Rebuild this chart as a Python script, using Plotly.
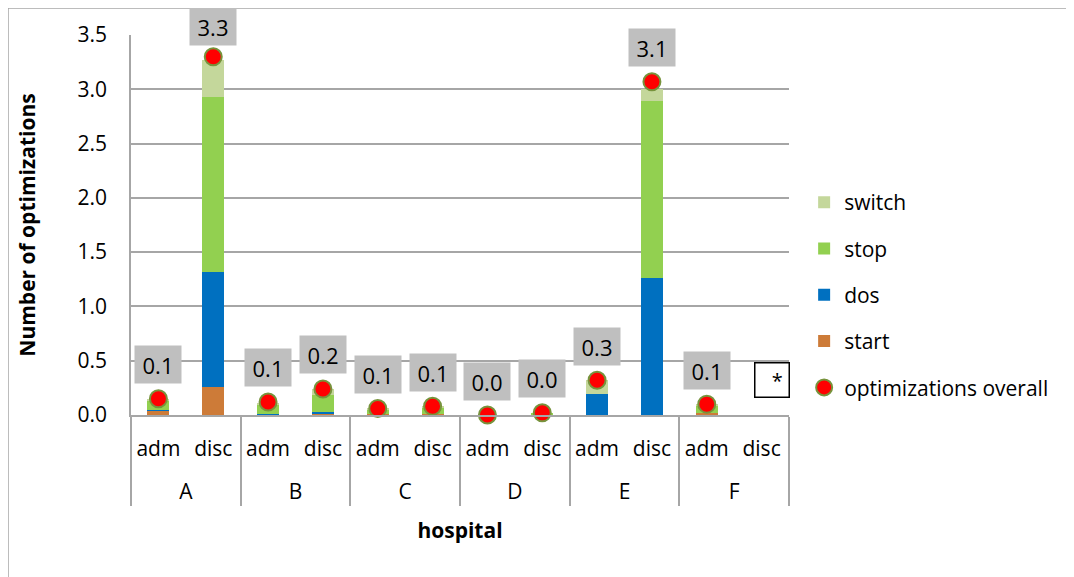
import plotly.graph_objects as go

hospitals = ["A", "A", "B", "B", "C", "C", "D", "D", "E", "E", "F", "F"]
wards = ["adm", "disc"] * 6

start = [0.04, 0.26, 0.00, 0.01, 0.01, 0.01, 0.00, 0.00, 0.00, 0.00, 0.02, 0.00]
dos = [0.01, 1.06, 0.01, 0.02, 0.00, 0.00, 0.00, 0.00, 0.19, 1.26, 0.00, 0.00]
stop = [0.08, 1.61, 0.08, 0.15, 0.04, 0.06, 0.00, 0.02, 0.00, 1.63, 0.07, 0.00]
switch = [0.02, 0.34, 0.02, 0.06, 0.01, 0.01, 0.00, 0.00, 0.13, 0.11, 0.01, 0.00]
overall = [0.15, 3.30, 0.12, 0.24, 0.06, 0.08, 0.00, 0.02, 0.32, 3.07, 0.10, None]

FONT = "Open Sans"
GRID = "#A6A6A6"
W, H = 1074, 577
ML, MR, MT, MB = 123, 293, 27, 170
PW, PH = W - ML - MR, H - MT - MB
YMAX = 3.5
PX_PER_UNIT = PH / YMAX

x = [hospitals, [w + "<br><span style='font-size:19px'>&nbsp;</span>" for w in wards]]

fig = go.Figure()
series = [
    ("start", start, "#CD7B38", 4),
    ("dos", dos, "#0070C0", 3),
    ("stop", stop, "#92D050", 2),
    ("switch", switch, "#C4D79B", 1),
]
for name, vals, color, rank in series:
    fig.add_trace(go.Bar(
        x=x, y=vals, name=name, marker=dict(color=color, line=dict(width=0)),
        width=0.4, legendrank=rank, legendgroup=name,
    ))

fig.add_trace(go.Scatter(
    x=x, y=overall, name="optimizations overall", mode="markers",
    marker=dict(color="#FF0000", size=17, line=dict(color="#77933C", width=2)),
    cliponaxis=False, legendrank=5, legendgroup="overall",
))

for h, w, v in zip(x[0], x[1], overall):
    if v is None:
        continue
    shift = min(34, (YMAX - v) * PX_PER_UNIT + 8)
    fig.add_annotation(
        x=[h, w], y=v, xref="x", yref="y", text=f"{v:.1f}", showarrow=False,
        yshift=shift, bgcolor="#BFBFBF", borderpad=6, width=34, height=25,
        font=dict(family=FONT, size=22, color="#000000"),
    )

# asterisk box for missing F disc
fig.add_annotation(
    x=0.974, y=0.092, xref="paper", yref="paper", xanchor="center", yanchor="middle",
    text="&nbsp;&nbsp;*", showarrow=False,
    bgcolor="white", bordercolor="#000000", borderwidth=1.5, borderpad=0,
    width=33, height=33, font=dict(family=FONT, size=20, color="#000000"),
    align="center", valign="middle",
)

# outer chart border
fig.add_shape(type="rect", xref="paper", yref="paper",
              x0=-ML / PW, x1=1 + (MR - 1) / PW, y0=-MB / PH, y1=1 + MT / PH,
              line=dict(color="#A6A6A6", width=1.5), layer="below")

fig.update_layout(
    width=W, height=H,
    margin=dict(l=ML, r=MR, t=MT, b=MB, autoexpand=False),
    paper_bgcolor="white", plot_bgcolor="white",
    barmode="stack",
    font=dict(family=FONT, size=21, color="#000000"),
    showlegend=True,
    legend=dict(x=1.023, y=0.613, xanchor="left", yanchor="top",
                font=dict(family=FONT, size=21), tracegroupgap=16,
                itemwidth=30, bgcolor="rgba(0,0,0,0)"),
    xaxis=dict(
        type="multicategory", range=[-0.5, 11.5], autorange=False,
        showline=True, linecolor=GRID, linewidth=1.5,
        showdividers=True, dividercolor=GRID, dividerwidth=1.5,
        ticks="", tickangle=0, ticklabelstandoff=14,
        showgrid=False, tickfont=dict(family=FONT, size=21),
        automargin=False,
        title=dict(text="<b>hospital</b>", font=dict(family=FONT, size=21), standoff=19),
    ),
    yaxis=dict(
        range=[0, YMAX], dtick=0.5, tickformat=".1f", showgrid=True,
        gridcolor=GRID, gridwidth=1.5, showline=True, linecolor=GRID, linewidth=1.5,
        zeroline=False, ticks="", ticklabelstandoff=18, automargin=False,
        tickfont=dict(family=FONT, size=21),
        title=dict(text="<b>Number of optimizations</b>", font=dict(family=FONT, size=21), standoff=36),
    ),
)

fig.write_html("out.html")
